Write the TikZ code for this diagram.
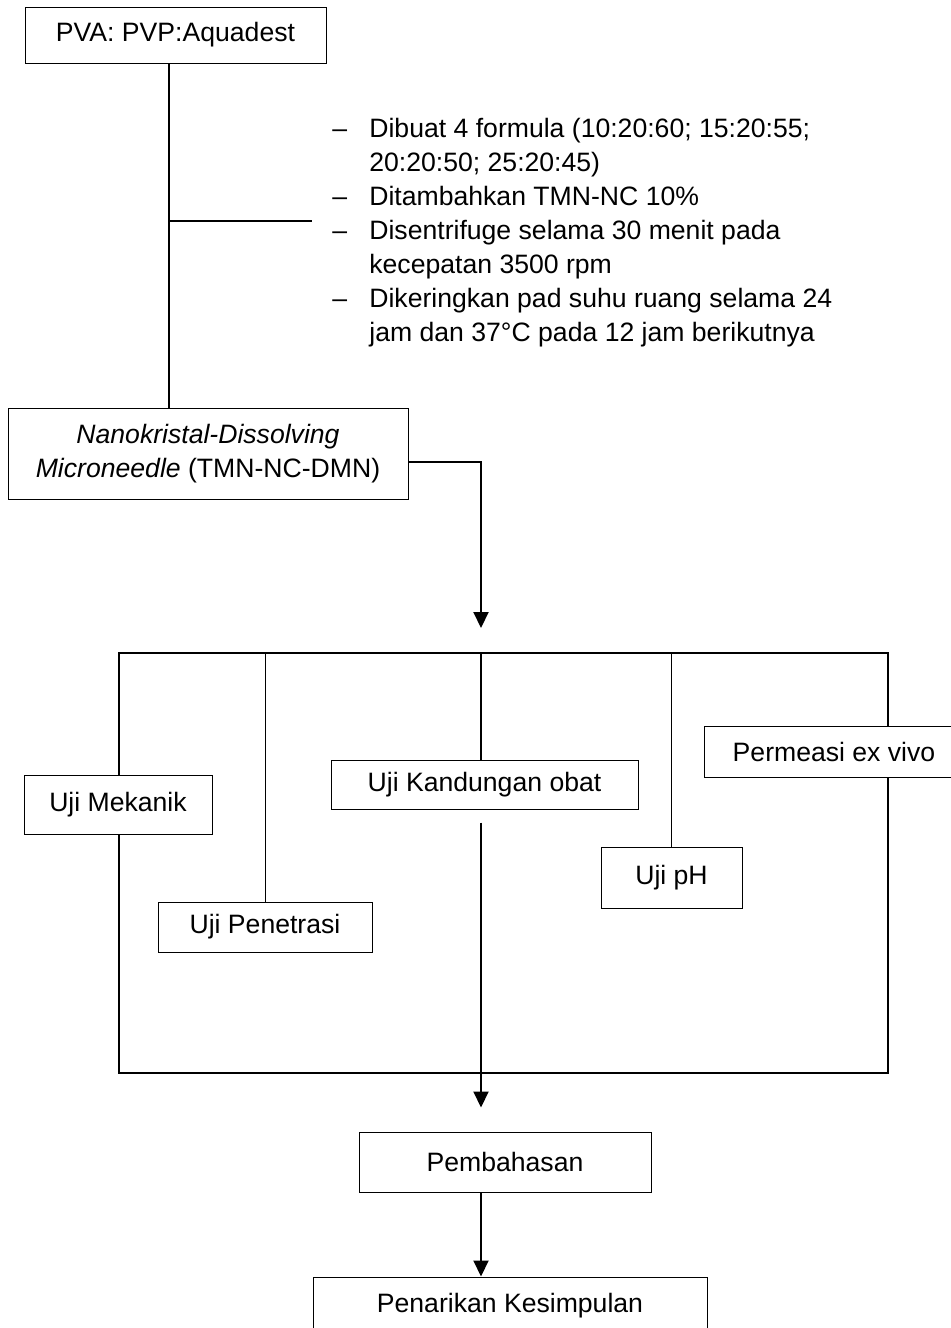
\documentclass[tikz,border=0pt]{standalone}
\usepackage{fontspec}
\setmainfont{Liberation Sans}
\usepackage{tikz}
\usetikzlibrary{arrows.meta}

\begin{document}
\begin{tikzpicture}[x=0.5pt,y=-0.5pt,
    font=\fontsize{13.3}{17}\selectfont,
    box/.style={draw,line width=0.5pt,fill=white,inner sep=0pt,align=center},
    link/.style={line width=1pt},
    thinlink/.style={line width=0.5pt},
    arr/.style={line width=1pt,-{Triangle[width=7.5pt,length=8pt]}}]
      \useasboundingbox (0,0) rectangle (950,1328);

      \coordinate (a) at (169,221);
      \coordinate (b) at (312,221);
      \coordinate (c) at (481,628);
      \coordinate (f1) at (119,653);
      \coordinate (f2) at (888,1073);

      \node [box,minimum width=150.5pt,minimum height=28pt] (1) at (175.5,35) {PVA: PVP:Aquadest};
      \node [box,minimum width=200pt,minimum height=45.5pt] (2) at (208,453.5)
            {\textit{Nanokristal-Dissolving}\\\textit{Microneedle} (TMN-NC-DMN)};
      \node [anchor=base west,inner sep=0pt] (3) at (332,137) {%
        \begin{tabular}[t]{@{}p{18.5pt}@{}l@{}}
          -- & Dibuat 4 formula (10:20:60; 15:20:55;\\
             & 20:20:50; 25:20:45)\\
          -- & Ditambahkan TMN-NC 10\%\\
          -- & Disentrifuge selama 30 menit pada\\
             & kecepatan 3500 rpm\\
          -- & Dikeringkan pad suhu ruang selama 24\\
             & jam dan 37°C pada 12 jam berikutnya
        \end{tabular}};

      \draw[link] (a |- 1.south) -- (a |- 2.north);
      \draw[link] (a) -- (b);
      \draw[arr] ([yshift=-4.25pt]2.east) -| (c);

      \draw[link] (f1) rectangle (f2);

      \node [box,minimum width=94pt,minimum height=29.5pt] (4) at (118,804.5) {Uji Mekanik};
      \node [box,minimum width=107pt,minimum height=25pt] (5) at (265,927) {Uji Penetrasi};
      \node [box,minimum width=153.5pt,minimum height=24.5pt] (6) at (484.5,784.5) {Uji Kandungan obat};
      \node [box,minimum width=70.5pt,minimum height=30.5pt] (7) at (671.5,877.5) {Uji pH};
      \node [box,minimum width=130pt,minimum height=25.5pt] (8) at (834,751.5) {Permeasi ex vivo};
      \node [box,minimum width=146pt,minimum height=30pt] (9) at (505,1162) {Pembahasan};
      \node [box,minimum width=197pt,minimum height=29pt] (10) at (510,1306) {Penarikan Kesimpulan};

      \draw[thinlink] (5.north |- f1) -- (5.north);
      \draw[thinlink] (7.north |- f1) -- (7.north);
      \draw[link] (c |- f1) -- (c |- 6.north);
      \draw[arr,shorten >=12pt] ([yshift=-6.5pt]c |- 6.south) -- (c |- 9.north);
      \draw[arr] (c |- 9.south) -- (c |- 10.north);
    \end{tikzpicture}
\end{document}
